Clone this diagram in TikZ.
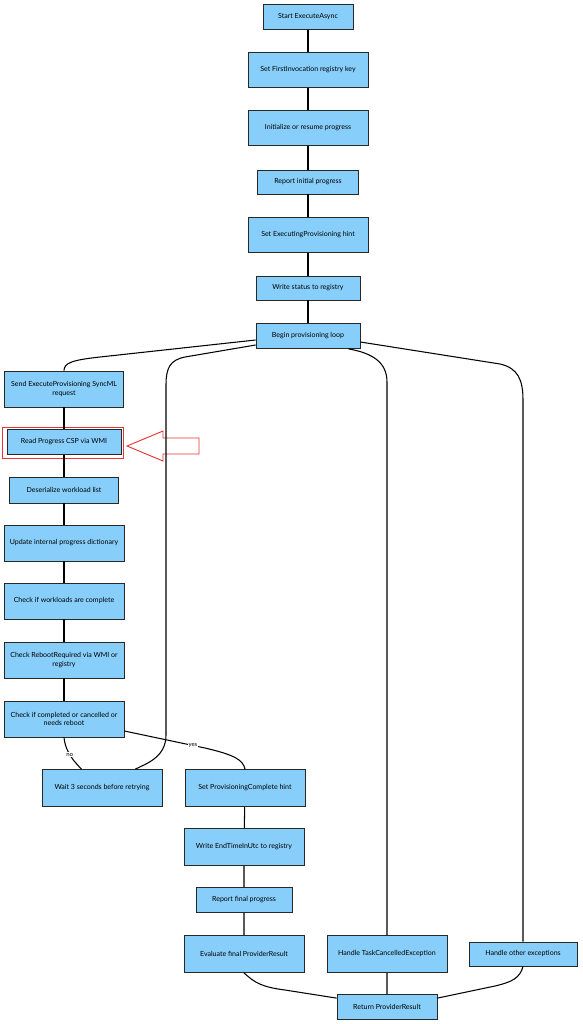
\documentclass[tikz,border=0pt]{standalone}
\usepackage{fontspec}
\setmainfont{Lato}
\usetikzlibrary{calc}
\definecolor{boxblue}{RGB}{135,206,250}
\definecolor{inkgrey}{RGB}{40,40,40}
\definecolor{markred}{RGB}{232,52,52}
\begin{document}
\begin{tikzpicture}[x=0.05cm, y=-0.05cm,
	box/.style={draw=inkgrey, fill=boxblue, line width=1.1pt, inner sep=0pt, align=center, font=\fontsize{10}{12.5}\selectfont},
	link/.style={draw=black, line width=1.5pt},
	lbl/.style={fill=white, inner sep=1pt, font=\fontsize{8.5}{9}\selectfont}]

	\useasboundingbox (0,0) rectangle (582,1024);

	\draw (308,17) node (start) [box, minimum width=4.5cm, minimum height=1.25cm] {Start ExecuteAsync};
	\draw (308,70) node (firstinv) [box, minimum width=6cm, minimum height=1.75cm] {Set FirstInvocation registry key};
	\draw (308,128) node (initprog) [box, minimum width=6cm, minimum height=1.75cm] {Initialize or resume progress};
	\draw (308,182) node (repinit) [box, minimum width=5.05cm, minimum height=1.2cm] {Report initial progress};
	\draw (308,235) node (exechint) [box, minimum width=6cm, minimum height=1.75cm] {Set ExecutingProvisioning hint};
	\draw (308,288) node (writestat) [box, minimum width=5.2cm, minimum height=1.2cm] {Write status to registry};
	\draw (308,336) node (loop) [box, minimum width=5.2cm, minimum height=1.25cm] {Begin provisioning loop};

	\draw (64,389) node (sendsync) [box, minimum width=5.95cm, minimum height=1.8cm] {Send ExecuteProvisioning SyncML\\request};
	\draw (64,442) node (readcsp) [box, minimum width=5.7cm, minimum height=1.25cm] {Read Progress CSP via WMI};
	\draw (64,490) node (deser) [box, minimum width=5.45cm, minimum height=1.3cm] {Deserialize workload list};
	\draw (64,543) node (update) [box, minimum width=6cm, minimum height=1.8cm] {Update internal progress dictionary};
	\draw (64,601) node (chkwork) [box, minimum width=6cm, minimum height=1.8cm] {Check if workloads are complete};
	\draw (64,660) node (chkboot) [box, minimum width=6cm, minimum height=1.8cm] {Check RebootRequired via WMI or\\registry};
	\draw (64,719) node (chkdone) [box, minimum width=6cm, minimum height=1.8cm] {Check if completed or cancelled or\\needs reboot};

	\draw (102,788) node (wait) [box, minimum width=6cm, minimum height=1.85cm] {Wait 3 seconds before retrying};
	\draw (245,788) node (comphint) [box, minimum width=6cm, minimum height=1.85cm] {Set ProvisioningComplete hint};
	\draw (244,847) node (endtime) [box, minimum width=6cm, minimum height=1.85cm] {Write EndTimeInUtc to registry};
	\draw (244,900) node (repfinal) [box, minimum width=4.8cm, minimum height=1.25cm] {Report final progress};
	\draw (244,954) node (evalres) [box, minimum width=6cm, minimum height=1.85cm] {Evaluate final ProviderResult};
	\draw (387,954) node (taskcanc) [box, minimum width=6cm, minimum height=1.85cm] {Handle TaskCancelledException};
	\draw (523,954) node (otherex) [box, minimum width=5.4cm, minimum height=1.2cm] {Handle other exceptions};
	\draw (387,1007) node (retres) [box, minimum width=5cm, minimum height=1.25cm] {Return ProviderResult};

	\draw [draw=markred, line width=1.3pt] (62.5,442.5) node (focus) [minimum width=6.05cm, minimum height=1.55cm, draw=markred, line width=1.3pt] {};
	\draw [draw=markred, line width=1.3pt] (127,446) -- (163,431) -- (163,438) -- (199,438) -- (199,454) -- (163,454) -- (163,461) -- cycle;

	\path [link] (start) -- (firstinv) (firstinv) -- (initprog) (initprog) -- (repinit) (repinit) -- (exechint) (exechint) -- (writestat) (writestat) -- (loop);
	\path [link] (sendsync) -- (readcsp) (readcsp) -- (deser) (deser) -- (update) (update) -- (chkwork) (chkwork) -- (chkboot) (chkboot) -- (chkdone);
	\path [link] (comphint) -- (endtime) (endtime) -- (repfinal) (repfinal) -- (evalres) (taskcanc) -- (retres);

	\path [link] ($(loop.west)+(0,4)$) -- (100,357) .. controls (72,360) and (64,363) .. (sendsync.north);
	\path [link] ($(loop.west)+(0,9)$) -- (185,357) .. controls (170,360) and (166,368) .. (166,385) -- (166,735) .. controls (166,758) and (145,764) .. ($(wait.north east)+(-27,0)$);
	\path [link] ($(loop.south east)+(-12,0)$) .. controls (372,353) and (387,362) .. (387,382) -- (taskcanc.north);
	\path [link] ($(loop.east)+(0,6)$) -- (500,364) .. controls (518,368) and (523,380) .. (523,400) -- (otherex.north);

	\path [link] (chkdone.south) .. controls (65,748) and (70,758) .. node [lbl, pos=0.55] {no} ($(wait.north west)+(40,0)$);
	\path [link] ($(chkdone.east)+(0,12)$) -- node [lbl, pos=0.85] {yes} (205,748) .. controls (235,755) and (243,760) .. (comphint.north);

	\path [link] (evalres.south) .. controls (255,983) and (262,987) .. (285,990) -- ($(retres.north west)+(0,4)$);
	\path [link] (otherex.south) .. controls (520,978) and (512,982) .. (495,986) -- ($(retres.north east)+(0,4)$);

\end{tikzpicture}
\end{document}
